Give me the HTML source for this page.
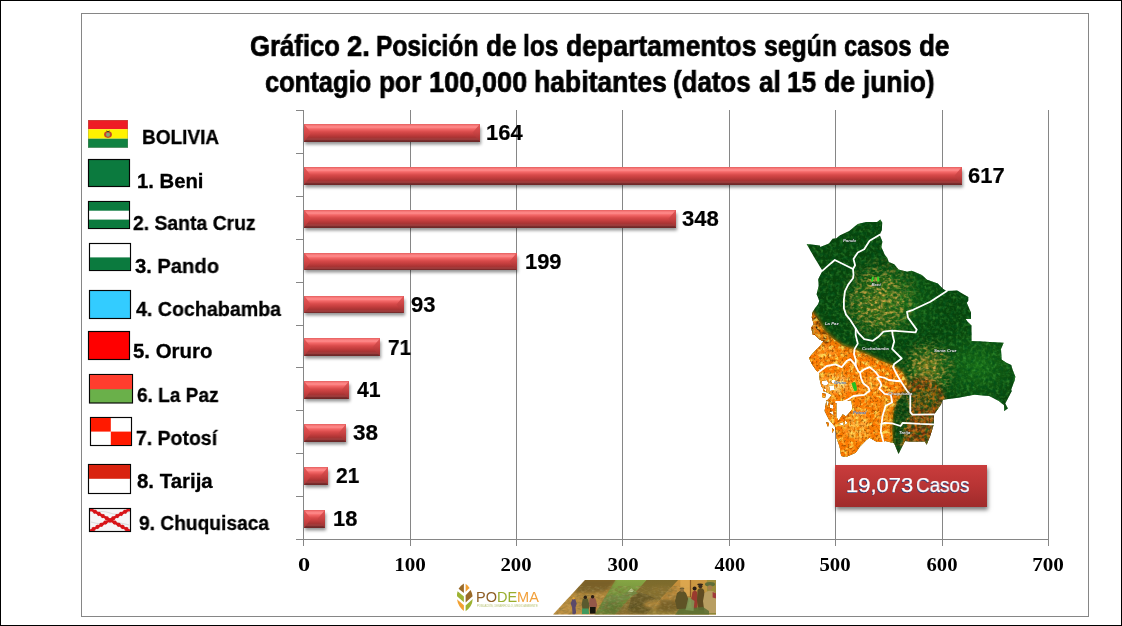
<!DOCTYPE html>
<html><head><meta charset="utf-8"><title>Grafico 2</title>
<style>
html,body{margin:0;padding:0;background:#fff;width:1122px;height:626px;overflow:hidden;}
body{width:1122px;height:626px;overflow:hidden;position:relative;font-family:"Liberation Sans",sans-serif;}
.t{position:absolute;white-space:nowrap;line-height:normal;will-change:transform;}
.g{position:absolute;background:#868686;}
.bar{position:absolute;left:304px;height:17.9px;
 background:linear-gradient(to bottom,#e05c5c 0px,#f47272 1px,#ff8c8c 3.1px,#f46868 4.9px,#d84a4a 7.9px,#c43e3e 10.5px,#a93333 13.4px,#a23a3a 14.4px,#9b3a3a 15.5px,#7e2e2e 16.1px,#6a2626 17.9px);
 box-shadow:1px 2.5px 3px rgba(0,0,0,.42);}
.bar i{position:absolute;top:0;height:100%;}
.bar .bl{left:0;width:7px;clip-path:polygon(0 0,100% 50%,0 100%);background:linear-gradient(to bottom,#e25656 0,#d84848 45%,#c64040 70%,#a83838 100%);opacity:.93}
.bar .br{right:0;width:7.6px;clip-path:polygon(100% 0,0 50%,100% 100%);background:linear-gradient(to bottom,#de5454 0,#cb4444 45%,#b43a3a 70%,#963232 100%);opacity:.9}
#casos{position:absolute;left:835px;top:465px;width:152px;height:41.5px;background:linear-gradient(to bottom,#c93c3c,#b83434 50%,#9f2b2b);box-shadow:1px 3px 4px rgba(0,0,0,.5);}
</style></head>
<body>
<div style="position:absolute;left:0;top:0;width:1120px;height:624px;border:1px solid #000;"></div>
<div style="position:absolute;left:81px;top:13px;width:1006px;height:602px;border:1px solid #868686;"></div>
<div class="g" style="left:303px;top:110px;width:1px;height:436px;"></div>
<div class="g" style="left:410px;top:110px;width:1px;height:436px;"></div>
<div class="g" style="left:516px;top:110px;width:1px;height:436px;"></div>
<div class="g" style="left:622px;top:110px;width:1px;height:436px;"></div>
<div class="g" style="left:729px;top:110px;width:1px;height:436px;"></div>
<div class="g" style="left:835px;top:110px;width:1px;height:436px;"></div>
<div class="g" style="left:942px;top:110px;width:1px;height:436px;"></div>
<div class="g" style="left:1048px;top:110px;width:1px;height:436px;"></div>
<div class="g" style="left:296px;top:539px;width:753px;height:1px;"></div>
<div class="g" style="left:296px;top:110px;width:7px;height:1px;"></div>
<div class="g" style="left:296px;top:153px;width:7px;height:1px;"></div>
<div class="g" style="left:296px;top:196px;width:7px;height:1px;"></div>
<div class="g" style="left:296px;top:239px;width:7px;height:1px;"></div>
<div class="g" style="left:296px;top:282px;width:7px;height:1px;"></div>
<div class="g" style="left:296px;top:325px;width:7px;height:1px;"></div>
<div class="g" style="left:296px;top:367px;width:7px;height:1px;"></div>
<div class="g" style="left:296px;top:410px;width:7px;height:1px;"></div>
<div class="g" style="left:296px;top:453px;width:7px;height:1px;"></div>
<div class="g" style="left:296px;top:496px;width:7px;height:1px;"></div>
<div class="bar" style="top:123.9px;width:176px;"><i class="bl"></i><i class="br"></i></div>
<div class="bar" style="top:166.8px;width:658px;"><i class="bl"></i><i class="br"></i></div>
<div class="bar" style="top:209.7px;width:372px;"><i class="bl"></i><i class="br"></i></div>
<div class="bar" style="top:252.6px;width:213px;"><i class="bl"></i><i class="br"></i></div>
<div class="bar" style="top:295.5px;width:100px;"><i class="bl"></i><i class="br"></i></div>
<div class="bar" style="top:338.4px;width:76px;"><i class="bl"></i><i class="br"></i></div>
<div class="bar" style="top:381.3px;width:45px;"><i class="bl"></i><i class="br"></i></div>
<div class="bar" style="top:424.2px;width:42px;"><i class="bl"></i><i class="br"></i></div>
<div class="bar" style="top:467.1px;width:24px;"><i class="bl"></i><i class="br"></i></div>
<div class="bar" style="top:510.0px;width:21px;"><i class="bl"></i><i class="br"></i></div>
<div id="casos"></div>
<!-- flags -->
<svg id="flags" style="position:absolute;left:0;top:0" width="300" height="626" viewBox="0 0 300 626">
 <!-- Bolivia -->
 <rect x="88" y="120" width="40" height="9.2" fill="#ee1c25"/>
 <rect x="88" y="129.2" width="40" height="9.5" fill="#fff200"/>
 <rect x="88" y="138.7" width="40" height="9.1" fill="#118242"/>
 <rect x="88.25" y="120.25" width="39.5" height="27.3" fill="none" stroke="#8a8a6a" stroke-width=".5" opacity=".6"/>
 <ellipse cx="108" cy="134.6" rx="3.9" ry="3.3" fill="#c4472a"/>
 <ellipse cx="108" cy="134.6" rx="2" ry="2.2" fill="#86a878"/>
 <path d="M106.4 130.2 l1.6 1.2 l1.6 -1.2 l-.4 1.8 h-2.4z" fill="#2c3420"/>
 <!-- Beni -->
 <rect x="88.5" y="159.5" width="41" height="27" fill="#0b7a3e" stroke="#050505" stroke-width="1.15"/>
 <!-- Santa Cruz -->
 <rect x="88.5" y="201.5" width="41" height="27" fill="#fff" stroke="#050505" stroke-width="1.15"/>
 <rect x="89" y="202" width="40" height="8.7" fill="#0b7a3e"/>
 <rect x="89" y="219.6" width="40" height="8.4" fill="#0b7a3e"/>
 <!-- Pando -->
 <rect x="89.5" y="243.5" width="41" height="27" fill="#fff" stroke="#050505" stroke-width="1.15"/>
 <rect x="90" y="257.4" width="40" height="12.6" fill="#0b7a3e"/>
 <!-- Cochabamba -->
 <rect x="89.5" y="290.5" width="41" height="28" fill="#33ccff" stroke="#050505" stroke-width="1.15"/>
 <!-- Oruro -->
 <rect x="88.5" y="331.5" width="41" height="28" fill="#ff0000" stroke="#050505" stroke-width="1.15"/>
 <!-- La Paz -->
 <rect x="89.5" y="374.5" width="43" height="28.5" fill="#6ab04a" stroke="#050505" stroke-width="1.15"/>
 <rect x="90" y="375" width="42" height="14.2" fill="#ff3d2e"/>
 <!-- Potosi -->
 <rect x="90.5" y="417.5" width="41" height="28" fill="#fff" stroke="#050505" stroke-width="1.15"/>
 <rect x="91" y="418" width="19.8" height="13.6" fill="#ff1a00"/>
 <rect x="110.8" y="431.6" width="20.2" height="13.4" fill="#ff1a00"/>
 <!-- Tarija -->
 <rect x="88.5" y="464.5" width="42" height="29" fill="#fff" stroke="#050505" stroke-width="1.15"/>
 <rect x="89" y="465" width="41" height="13.8" fill="#d9230f"/>
 <!-- Chuquisaca -->
 <clipPath id="chq"><rect x="90" y="509" width="40" height="22"/></clipPath>
 <rect x="89.5" y="508.5" width="41" height="23" fill="#f6f6f6" stroke="#050505" stroke-width="1.15"/>
 <path d="M92 513 q10 -3 18 0 t19 -1 M91 522 q9 3 16 1 t22 2" stroke="#dcdcdc" stroke-width="1.2" fill="none"/>
 <g clip-path="url(#chq)">
  <path d="M90 509 L130 531 M130 509 L90 531" stroke="#d81418" stroke-width="2.8" fill="none"/>
  <path d="M90 509 L130 531 M130 509 L90 531" stroke="#d81418" stroke-width="4" fill="none" stroke-dasharray="2.3 2.2"/>
 </g>
</svg>

<!-- map -->
<svg id="map" style="position:absolute;left:795px;top:212px" width="230" height="250" viewBox="795 212 230 250">
<defs>
<clipPath id="mc"><path clip-rule="evenodd" d="M806.6 244.1 L819.8 245.5 L820.3 246.9 L828.9 243.4 L832.6 238.8 L836.4 238.3 L840.1 235.3 L849.2 231.1 L857.8 224.1 L866.4 222.0 L877.1 222.0 L880.3 219.5 L882.2 222.5 L881.9 230.0 L879.7 234.8 L882.4 241.8 L881.4 247.1 L884.6 254.6 L887.2 257.8 L888.8 262.1 L894.2 264.2 L898.5 269.6 L907.0 271.7 L911.3 270.7 L914.3 271.8 L921.8 275.0 L927.1 279.8 L937.8 283.5 L943.2 288.9 L946.4 291.0 L957.1 290.5 L968.3 296.9 L968.3 300.7 L966.7 302.8 L971.0 312.5 L971.0 318.9 L965.7 318.9 L967.0 321.0 L971.5 325.4 L971.5 340.9 L1003.7 342.7 L1001.0 348.9 L1001.5 359.6 L1006.3 362.8 L1011.2 365.0 L1012.8 370.3 L1015.4 376.7 L1014.4 381.0 L1011.2 389.6 L1011.7 391.2 L1005.3 403.5 L1007.9 408.4 L1004.2 411.0 L1004.0 405.2 L998.8 400.9 L989.2 396.1 L974.2 394.8 L958.2 397.7 L942.6 399.8 L941.0 404.6 L934.1 414.3 L933.6 425.0 L930.3 435.7 L926.6 444.8 L925.0 441.6 L910.0 441.5 L904.9 441.0 L901.7 447.5 L898.5 453.9 L894.2 443.2 L885.6 441.0 L882.4 442.1 L877.1 442.1 L869.6 437.8 L866.4 440.0 L860.0 446.4 L855.7 452.8 L846.0 457.1 L841.2 456.0 L839.6 446.4 L836.4 437.8 L835.3 427.1 L828.9 419.6 L824.6 411.0 L826.2 401.4 L832.1 394.9 L825.7 391.7 L821.4 386.4 L819.8 380.0 L819.3 373.5 L816.1 370.3 L811.8 363.9 L809.1 358.0 L812.8 353.2 L819.3 346.8 L823.5 341.4 L819.3 339.3 L815.0 335.0 L812.8 334.9 L811.2 327.5 L813.9 324.2 L811.8 317.8 L812.3 312.5 L815.0 308.2 L818.2 303.9 L819.3 300.7 L816.6 294.3 L818.7 285.7 L818.2 279.3 L822.5 270.7 L813.9 256.7Z M836.4 401.4 L851.4 400.4 L852.5 408.9 L846.0 416.4 L842.8 414.3 L838.5 420.7 L836.4 416.4Z M826 400 l3 2 l-2 5 z M829 412 l4 -1 l1 5 z M826 422 l3 1 l-1 4 z M838 424 l5 -2 l1 4 z M845 420 l3 3 l-3 2z M822 393 l4 1 l-1 4 l-3 -1z M830 404 l3 1 l0 4 l-3 -1z M832 428 l2 2 l-2 3z M822 381 l5 -1 l2 4 l-4 2 l-3 -2z M829 386 l5 -1 l1 5 l-5 1z M823 388 l3 1 l0 3 l-3 -1z M832 380 l3 0 l0 3 l-3 0z"/></clipPath>
<clipPath id="oc"><polygon points="800.0,309.0 812.0,311.0 817.0,318.0 824.0,330.0 832.0,338.0 843.0,346.0 853.5,349.0 866.4,354.3 880.3,360.7 894.2,366.0 903.0,373.0 907.0,384.0 903.0,394.0 897.0,402.0 893.0,415.0 892.0,428.0 893.0,445.0 890.0,465.0 800.0,465.0"/></clipPath>
<radialGradient id="mw" cx="0.5" cy="0.5" r="0.5"><stop offset="0" stop-color="#fff"/><stop offset="0.55" stop-color="#fff" stop-opacity=".8"/><stop offset="1" stop-color="#fff" stop-opacity="0"/></radialGradient>
<mask id="sv" maskUnits="userSpaceOnUse" x="795" y="212" width="230" height="250"><ellipse cx="880" cy="300" rx="42" ry="44" fill="url(#mw)"/><ellipse cx="928" cy="370" rx="30" ry="34" fill="url(#mw)"/><ellipse cx="920" cy="408" rx="22" ry="22" fill="url(#mw)"/></mask>
<filter id="nD" x="0" y="0" width="100%" height="100%"><feTurbulence type="fractalNoise" baseFrequency="0.28" numOctaves="2" seed="7"/><feColorMatrix type="matrix" values="0 0 0 0 0  0 0 0 0 0.08  0 0 0 0 0.01  0 2.6 0 0 -1.05"/></filter>
<filter id="nG" x="0" y="0" width="100%" height="100%"><feTurbulence type="fractalNoise" baseFrequency="0.3" numOctaves="2" seed="31"/><feColorMatrix type="matrix" values="0 0 0 0 0.1  0 0 0 0 0.6  0 0 0 0 0.08  2.8 0 0 0 -1.2"/></filter>
<filter id="nO" x="0" y="0" width="100%" height="100%"><feTurbulence type="fractalNoise" baseFrequency="0.24 0.34" numOctaves="2" seed="11"/><feColorMatrix type="matrix" values="0 0 0 0 0.74  0 0 0 0 0.42  0 0 0 0 0.07  3.4 0 0 0 -1.45"/></filter>
<filter id="nY" x="0" y="0" width="100%" height="100%"><feTurbulence type="fractalNoise" baseFrequency="0.2 0.26" numOctaves="2" seed="23"/><feColorMatrix type="matrix" values="0 0 0 0 1  0 0 0 0 0.8  0 0 0 0 0.12  0 0 3.6 0 -1.5"/></filter>
<filter id="nR" x="0" y="0" width="100%" height="100%"><feTurbulence type="fractalNoise" baseFrequency="0.34 0.26" numOctaves="2" seed="5"/><feColorMatrix type="matrix" values="0 0 0 0 0.92  0 0 0 0 0.2  0 0 0 0 0  0 3.4 0 0 -1.35"/></filter>
<filter id="nK" x="0" y="0" width="100%" height="100%"><feTurbulence type="fractalNoise" baseFrequency="0.5 0.4" numOctaves="2" seed="13"/><feColorMatrix type="matrix" values="0 0 0 0 0.25  0 0 0 0 0.06  0 0 0 0 0  3.6 0 0 0 -1.8"/></filter>
<filter id="bl"><feGaussianBlur stdDeviation="2"/></filter><filter id="bl2"><feGaussianBlur stdDeviation="4"/></filter><filter id="bl1"><feGaussianBlur stdDeviation="1"/></filter>
<radialGradient id="gb" cx="0.5" cy="0.5" r="0.5"><stop offset="0" stop-color="#6e7a18" stop-opacity=".75"/><stop offset="0.6" stop-color="#3e7016" stop-opacity=".5"/><stop offset="1" stop-color="#1c6a18" stop-opacity="0"/></radialGradient>
<radialGradient id="gs" cx="0.5" cy="0.5" r="0.5"><stop offset="0" stop-color="#b88a20" stop-opacity=".8"/><stop offset="0.55" stop-color="#6a7a1a" stop-opacity=".5"/><stop offset="1" stop-color="#1c6a18" stop-opacity="0"/></radialGradient>
<radialGradient id="ge" cx="0.5" cy="0.5" r="0.5"><stop offset="0" stop-color="#1c7419" stop-opacity=".95"/><stop offset="1" stop-color="#166216" stop-opacity="0"/></radialGradient>
</defs>
<g clip-path="url(#mc)">
<rect x="795" y="212" width="230" height="250" fill="#08430c"/>
<ellipse cx="978" cy="366" rx="52" ry="42" fill="url(#ge)"/>
<ellipse cx="900" cy="300" rx="48" ry="40" fill="url(#ge)" opacity=".75"/>
<ellipse cx="880" cy="303" rx="36" ry="38" fill="url(#gb)"/>
<ellipse cx="927" cy="368" rx="22" ry="27" fill="url(#gs)"/>
<rect x="795" y="212" width="230" height="250" filter="url(#nG)" opacity=".36"/>
<g mask="url(#sv)"><rect x="830" y="250" width="140" height="190" filter="url(#nO)" opacity=".95"/></g>
<rect x="795" y="212" width="230" height="250" filter="url(#nD)" opacity=".7"/>
<g filter="url(#bl)"><polygon points="800.0,309.0 812.0,311.0 817.0,318.0 824.0,330.0 832.0,338.0 843.0,346.0 853.5,349.0 866.4,354.3 880.3,360.7 894.2,366.0 903.0,373.0 907.0,384.0 903.0,394.0 897.0,402.0 893.0,415.0 892.0,428.0 893.0,445.0 890.0,465.0 800.0,465.0" fill="#ff7606"/><polygon points="905.0,392.0 912.0,380.0 925.0,378.0 938.0,386.0 945.0,398.0 936.0,416.0 934.0,446.0 900.0,446.0 905.0,424.0 910.0,412.0" fill="#70300c" opacity=".95"/></g>
<polygon points="897.0,398.0 910.0,392.0 911.0,412.0 906.0,424.0 905.0,441.0 898.5,455.0 893.0,443.0 897.0,425.0 894.0,412.0" fill="#0a3a0c" filter="url(#bl)" opacity=".97"/>
<clipPath id="wc"><polygon points="897.0,398.0 910.0,392.0 911.0,412.0 906.0,424.0 905.0,441.0 898.5,455.0 893.0,443.0 897.0,425.0 894.0,412.0"/></clipPath>
<g clip-path="url(#wc)"><rect x="885" y="385" width="35" height="75" filter="url(#nG)" opacity=".3"/><rect x="885" y="385" width="35" height="75" filter="url(#nO)" opacity=".25"/><rect x="885" y="385" width="35" height="75" filter="url(#nD)" opacity=".6"/></g>
<g filter="url(#bl)" opacity=".95"><ellipse cx="836" cy="384" rx="14" ry="8" fill="#ffe08a"/><ellipse cx="857" cy="426" rx="12" ry="14" fill="#ffb040"/><ellipse cx="872" cy="384" rx="10" ry="7" fill="#ff9a2a"/><ellipse cx="886" cy="410" rx="3.5" ry="15" fill="#eaa42a"/><ellipse cx="826" cy="352" rx="10" ry="8" fill="#ff9428"/></g>
<ellipse cx="926" cy="398" rx="13" ry="11" fill="#274e12" filter="url(#bl)" opacity=".8"/>
<clipPath id="cc"><polygon points="905.0,392.0 912.0,380.0 925.0,378.0 938.0,386.0 945.0,398.0 936.0,416.0 934.0,446.0 900.0,446.0 905.0,424.0 910.0,412.0"/></clipPath>
<g clip-path="url(#cc)"><rect x="895" y="375" width="60" height="75" filter="url(#nO)" opacity=".55"/><rect x="895" y="375" width="60" height="75" filter="url(#nR)" opacity=".55"/><rect x="895" y="375" width="60" height="75" filter="url(#nD)" opacity=".75"/></g>
<path d="M811 312 L817 318 L821 330 L831 339 L827 344 L818 339 L812 331 Z" fill="#140e04" opacity=".85" filter="url(#bl1)"/>
<path d="M812 318 l3 4 l1 6 l5 6 l4 6 l-4 1 l-6 -7 l-3 -8z" fill="#f08a1c" opacity=".85"/>
<g clip-path="url(#oc)"><rect x="795" y="300" width="160" height="165" filter="url(#nY)" opacity=".85"/><rect x="795" y="300" width="160" height="165" filter="url(#nR)" opacity=".85"/><rect x="795" y="300" width="160" height="165" filter="url(#nK)" opacity=".7"/></g>
<path d="M851.5 383 l3.5 -1 l1.5 4 l0.5 4.5 l-2.5 0.8 l-1.5 -3.5 z" fill="#22c222"/>
<path d="M870.8 281 l1.5 -4.4 l1.6 .5 l-1 4.6z M877 281.3 l.2 -4.7 l1.8 .2 l.5 4.7z" fill="#35d82a"/>
</g>
<polyline points="822.5,270.7 831.0,263.2 834.8,260.0 853.0,269.0" fill="none" stroke="#fff" stroke-width="1.8" stroke-linejoin="round" stroke-linecap="round"/>
<polyline points="879.7,234.8 869.6,240.7 864.2,249.3 857.8,252.5 853.5,258.9 855.1,265.3 853.0,269.0 853.5,274.9 853.0,278.2 848.2,284.6 845.0,291.1 843.9,299.6 843.9,308.2 846.0,314.6 850.3,320.0 855.7,328.5 858.3,332.8 864.2,339.2 872.8,340.8 878.1,337.1 883.5,331.7 892.1,330.7 915.6,332.3 916.7,329.6 908.1,317.8 907.0,311.9 913.2,309.8 930.3,301.7 946.9,291.0" fill="none" stroke="#fff" stroke-width="1.8" stroke-linejoin="round" stroke-linecap="round"/>
<polyline points="855.7,328.5 855.7,335.0 857.8,343.6 854.6,348.9 854.0,354.3 855.7,359.6 855.7,366.0" fill="none" stroke="#fff" stroke-width="1.8" stroke-linejoin="round" stroke-linecap="round"/>
<polyline points="818.2,372.5 826.8,366.0 835.3,364.4 841.7,367.1 847.1,360.7 850.3,359.1 853.5,362.8 855.7,366.0" fill="none" stroke="#fff" stroke-width="1.8" stroke-linejoin="round" stroke-linecap="round"/>
<polyline points="855.7,366.0 858.3,371.4 860.0,372.5 864.2,369.3 869.6,367.1 874.9,371.4 879.2,376.7 884.6,377.8 888.8,380.0 896.3,381.0 900.6,381.0" fill="none" stroke="#fff" stroke-width="1.8" stroke-linejoin="round" stroke-linecap="round"/>
<polyline points="892.1,330.7 892.6,335.0 894.2,341.4 892.1,348.9 901.7,358.5 894.2,363.9 893.1,367.1 896.3,373.5 900.6,381.0 907.0,390.7 910.3,394.9 910.3,412.1 912.4,414.6 934.1,414.3" fill="none" stroke="#fff" stroke-width="1.8" stroke-linejoin="round" stroke-linecap="round"/>
<polyline points="860.0,372.5 861.0,377.8 863.2,383.2 868.5,387.5 869.6,390.7 864.2,394.9 853.5,396.0 848.2,399.2 842.8,402.0 836.0,402.0" fill="none" stroke="#fff" stroke-width="1.8" stroke-linejoin="round" stroke-linecap="round"/>
<polyline points="879.2,376.7 877.1,377.8 880.3,382.1 881.4,385.3 879.2,388.5 884.6,393.9 891.0,394.9 892.1,402.5 885.6,405.7 882.4,416.4 880.8,431.4 883.5,442.1" fill="none" stroke="#fff" stroke-width="1.8" stroke-linejoin="round" stroke-linecap="round"/>
<polyline points="881.5,424.0 884.6,422.8 892.1,423.4 900.6,426.0 902.8,422.8 920.0,423.9 933.6,424.4" fill="none" stroke="#fff" stroke-width="1.8" stroke-linejoin="round" stroke-linecap="round"/>
<text x="843" y="241.5" font-family="Liberation Sans, sans-serif" font-size="4.3" font-weight="bold" font-style="italic" fill="#f2f2f2" stroke="#1c2430" stroke-width=".3" paint-order="stroke" opacity=".92">Pando</text>
<text x="871.5" y="286.3" font-family="Liberation Sans, sans-serif" font-size="4.3" font-weight="bold" font-style="italic" fill="#f2f2f2" stroke="#1c2430" stroke-width=".3" paint-order="stroke" opacity=".92">Beni</text>
<text x="825" y="325" font-family="Liberation Sans, sans-serif" font-size="4.3" font-weight="bold" font-style="italic" fill="#f2f2f2" stroke="#1c2430" stroke-width=".3" paint-order="stroke" opacity=".92">La Paz</text>
<text x="862" y="350" font-family="Liberation Sans, sans-serif" font-size="4.3" font-weight="bold" font-style="italic" fill="#f2f2f2" stroke="#1c2430" stroke-width=".3" paint-order="stroke" opacity=".92">Cochabamba</text>
<text x="934" y="351.5" font-family="Liberation Sans, sans-serif" font-size="4.3" font-weight="bold" font-style="italic" fill="#f2f2f2" stroke="#1c2430" stroke-width=".3" paint-order="stroke" opacity=".92">Santa Cruz</text>
<text x="834" y="383.5" font-family="Liberation Sans, sans-serif" font-size="4.3" font-weight="bold" font-style="italic" fill="#3f62a8" stroke="#f4ead0" stroke-width=".3" paint-order="stroke" opacity=".92">Oruro</text>
<text x="853" y="414" font-family="Liberation Sans, sans-serif" font-size="4.3" font-weight="bold" font-style="italic" fill="#3f62a8" stroke="#f4ead0" stroke-width=".3" paint-order="stroke" opacity=".92">Potosí</text>
<text x="888" y="394.5" font-family="Liberation Sans, sans-serif" font-size="4.3" font-weight="bold" font-style="italic" fill="#f2f2f2" stroke="#1c2430" stroke-width=".3" paint-order="stroke" opacity=".92">Chuquisaca</text>
<text x="899" y="433.5" font-family="Liberation Sans, sans-serif" font-size="4.3" font-weight="bold" font-style="italic" fill="#f2f2f2" stroke="#1c2430" stroke-width=".3" paint-order="stroke" opacity=".92">Tarija</text>
</svg>

<!-- logos -->
<svg id="logos" style="position:absolute;left:450px;top:576px" width="275" height="42" viewBox="450 576 275 42">
 <defs>
  <clipPath id="bn"><polygon points="553,614.5 585,580 716,580 716,614.5"/></clipPath>
  <filter id="lb"><feGaussianBlur stdDeviation="0.7"/></filter>
  <filter id="ln" x="0" y="0" width="100%" height="100%"><feTurbulence type="fractalNoise" baseFrequency="0.22 0.4" numOctaves="2" seed="4"/><feColorMatrix type="matrix" values="0 0 0 0 0.22  0 0 0 0 0.16  0 0 0 0 0.04  2.8 0 0 0 -1.15"/></filter>
  <filter id="ln2" x="0" y="0" width="100%" height="100%"><feTurbulence type="fractalNoise" baseFrequency="0.25 0.45" numOctaves="2" seed="9"/><feColorMatrix type="matrix" values="0 0 0 0 0.95  0 0 0 0 0.78  0 0 0 0 0.4  0 2.8 0 0 -1.3"/></filter>
  <filter id="lb2"><feGaussianBlur stdDeviation="1.6"/></filter>
  <linearGradient id="sky1" x1="0" y1="0" x2="0" y2="1"><stop offset="0" stop-color="#8a6a2a"/><stop offset=".45" stop-color="#b58a3c"/><stop offset="1" stop-color="#c09244"/></linearGradient>
  <linearGradient id="grn" x1="0" y1="0" x2="0" y2="1"><stop offset="0" stop-color="#86a544"/><stop offset=".5" stop-color="#6f8f3a"/><stop offset="1" stop-color="#6a7f35"/></linearGradient>
  <linearGradient id="brn" x1="0" y1="0" x2="0" y2="1"><stop offset="0" stop-color="#7b6a2c"/><stop offset=".5" stop-color="#86702f"/><stop offset="1" stop-color="#8a6f30"/></linearGradient>
  <linearGradient id="org" x1="0" y1="0" x2="0" y2="1"><stop offset="0" stop-color="#c8923c"/><stop offset=".5" stop-color="#b5863a"/><stop offset="1" stop-color="#9a8438"/></linearGradient>
 </defs>
 <!-- leaf -->
 <g>
  <path d="M463.9 583.6 L463.9 593 L458.6 588.8 Q460.6 585.6 463.9 583.6Z" fill="#9a6a28"/>
  <path d="M465.6 583.8 Q468.2 585.6 469.6 587.9 L465.6 591.8Z" fill="#f2a132"/>
  <path d="M457.6 591.3 L463.9 596.5 L463.9 602.3 L457 596.3 Q456.9 593.5 457.6 591.3Z" fill="#9cb232"/>
  <path d="M465.6 595.2 L470.6 590 Q472.2 593 472.6 596.2 L465.6 602.6Z" fill="#9a6a28"/>
  <path d="M457 599.3 L463.9 605.3 L463.9 611 Q458 606.5 457 599.3Z" fill="#f2a132"/>
  <path d="M465.6 605.6 L472.7 599 Q472.4 606.5 465.6 611.2Z" fill="#9cb232"/>
 </g>
 <!-- banner -->
 <g clip-path="url(#bn)">
  <rect x="553" y="580" width="165" height="35" fill="url(#sky1)"/>
  <polygon points="615.4,580 646.8,580 615,614.7 594.5,614.7" fill="url(#grn)"/>
  <polygon points="646.8,580 678.1,580 646,614.7 615,614.7" fill="url(#brn)"/>
  <polygon points="678.1,580 718,580 718,614.7 646,614.7" fill="url(#org)"/>
  <polygon points="707,580 718,580 718,614.7 676.5,614.7" fill="#7f8c3c" opacity=".55"/>
  <!-- dark top of first band -->
  <path d="M585 580 L616 580 L607 590 Q595 594 574 592Z" fill="#6f5a26" filter="url(#lb2)" opacity=".75"/>
  <!-- mountains -->
  <path d="M604 598 L612 594.5 L620 596 L626 592.5 L631.5 588.5 L634 591 L638 593 L600 612Z" fill="#728c46" filter="url(#lb)" opacity=".9"/>
  <path d="M628 591.5 L631.5 588.3 L634 590.6 L632 592.3Z" fill="#c8d8a0" opacity=".85"/>
  <path d="M631 598 L640 592.5 L648 595 L656 599 L628 610Z" fill="#5e5226" filter="url(#lb)" opacity=".75"/>
  <!-- field textures -->
  <g filter="url(#lb2)" opacity=".6">
   <ellipse cx="668" cy="606" rx="15" ry="6" fill="#5a4a1c"/>
   <ellipse cx="640" cy="609" rx="12" ry="5" fill="#4f4a1c"/>
   <ellipse cx="612" cy="607" rx="10" ry="6" fill="#58702e"/>
   <ellipse cx="662" cy="590" rx="12" ry="4" fill="#8f7430"/>
   <ellipse cx="652" cy="604" rx="8" ry="4" fill="#c09040"/>
  </g>
  <rect x="553" y="586" width="140" height="29" filter="url(#ln)" opacity=".55"/>
  <rect x="553" y="586" width="140" height="29" filter="url(#ln2)" opacity=".16"/>
  <!-- people left -->
  <g filter="url(#lb)">
   <path d="M572.2 599.5 q1.8 -2 3.2 0 l1.3 4 l-1.2 4 l.6 5 l-1 2 h-2.6 l-.4 -7 l-1.4 -4z" fill="#5a4a6a"/>
   <circle cx="573.6" cy="598.2" r="1.3" fill="#e0a23a"/>
   <path d="M582.6 599.5 q3 -3.6 5.4 0 l1.6 6 l-1 4 h-6 l-1 -5z" fill="#5a5a2e"/>
   <path d="M582 608.5 h6.5 l.5 5.5 h-7z" fill="#3f9a5e"/>
   <circle cx="585.3" cy="597.3" r="1.7" fill="#2a2016"/>
   <path d="M589.6 599 q3 -3.8 6 0 l1.6 6 l-1.2 3.5 h-6 l-1 -5z" fill="#94584a"/>
   <rect x="590" y="607" width="5.6" height="6.6" fill="#15120e"/>
   <circle cx="592.6" cy="596.8" r="1.7" fill="#2a1a12"/>
  </g>
  <!-- wall/door right -->
  <rect x="680.3" y="580" width="9.6" height="16" fill="#e2ab52" opacity=".8"/>
  <rect x="691" y="580" width="16" height="17" fill="#cf9a44" opacity=".7"/>
  <rect x="689.9" y="580" width="1.2" height="17" fill="#7a4a1c" opacity=".7"/>
  <!-- people right -->
  <g filter="url(#lb)">
   <path d="M677 593 q5 -5 9 0 l3 8 l-2 8 h-10 l-2 -8z" fill="#5f5226"/>
   <ellipse cx="682" cy="588.6" rx="2.4" ry="1" fill="#6a5a30"/>
   <circle cx="682" cy="590.3" r="1.9" fill="#8f6f3c"/>
   <path d="M692.5 592 q2.5 -3 4.5 0 l1 9 l-1 8 h-5 l-1 -9z" fill="#9a3a2e"/>
   <circle cx="694.6" cy="588.4" r="2" fill="#2a1c12"/>
   <path d="M697.5 590 q3 -4 6.5 0 l1.5 10 l-1 10 h-6 l-1.5 -10z" fill="#5e4c22"/>
   <ellipse cx="700.2" cy="584.6" rx="3" ry="1.1" fill="#30241a"/>
   <circle cx="700.4" cy="586.3" r="2" fill="#3a2a1a"/>
   <path d="M704.5 593 q5 -4 10 -1 l2 6 v15 h-12 l-1.5 -12z" fill="#b89e62"/>
   <ellipse cx="710" cy="584.3" rx="5" ry="2.2" fill="#5f6e3a"/>
   <circle cx="710" cy="587.6" r="2.4" fill="#a57e4c"/>
   <path d="M712.6 592 l3.6 1.6 v5 l-3.6 -1z" fill="#a03a3a"/>
   <path d="M679 609 l24 -2 l6 4 v4 h-34z" fill="#5a6e34" opacity=".85"/>
   <path d="M688.5 597 l6 4 l-1 10 l-8 -1z" fill="#7f9a58" opacity=".85"/>
  </g>
 </g>
</svg>
<div class="t" id="lg1" style="left:476.3px;top:589.4px;font-size:14.5px;font-weight:normal;transform-origin:0 0;transform:scaleX(.995);letter-spacing:0"><span style="color:#8e5e24">PO</span><span style="color:#9aae2e">DE</span><span style="color:#f2a03a">MA</span></div>
<div class="t" id="lg2" style="left:476.5px;top:603.8px;font-size:2.8px;font-weight:normal;color:#b4bf6c;transform-origin:0 0;transform:scaleX(.97);letter-spacing:0">POBLACIÓN, DESARROLLO, MEDIO AMBIENTE</div>

<div id="d0" class="t" style="left:486.24px;transform-origin:0 0;top:121.01px;font-size:21.2px;font-weight:bold;color:#000;transform:scaleX(1.0347);-webkit-text-stroke:0.2px #000;">164</div>
<div id="d1" class="t" style="left:967.95px;transform-origin:0 0;top:163.91px;font-size:21.2px;font-weight:bold;color:#000;transform:scaleX(1.0354);-webkit-text-stroke:0.2px #000;">617</div>
<div id="d2" class="t" style="left:682.45px;transform-origin:0 0;top:206.81px;font-size:21.2px;font-weight:bold;color:#000;transform:scaleX(1.0444);-webkit-text-stroke:0.2px #000;">348</div>
<div id="d3" class="t" style="left:524.60px;transform-origin:0 0;top:249.71px;font-size:21.2px;font-weight:bold;color:#000;transform:scaleX(1.0328);-webkit-text-stroke:0.2px #000;">199</div>
<div id="d4" class="t" style="left:410.71px;transform-origin:0 0;top:292.61px;font-size:21.2px;font-weight:bold;color:#000;transform:scaleX(1.0381);-webkit-text-stroke:0.2px #000;">93</div>
<div id="d5" class="t" style="left:388.35px;transform-origin:0 0;top:335.51px;font-size:21.2px;font-weight:bold;color:#000;transform:scaleX(0.9802);-webkit-text-stroke:0.2px #000;">71</div>
<div id="d6" class="t" style="left:356.77px;transform-origin:0 0;top:378.41px;font-size:21.2px;font-weight:bold;color:#000;transform:scaleX(1.0040);-webkit-text-stroke:0.2px #000;">41</div>
<div id="d7" class="t" style="left:352.72px;transform-origin:0 0;top:421.31px;font-size:21.2px;font-weight:bold;color:#000;transform:scaleX(1.0642);-webkit-text-stroke:0.2px #000;">38</div>
<div id="d8" class="t" style="left:335.58px;transform-origin:0 0;top:464.21px;font-size:21.2px;font-weight:bold;color:#000;transform:scaleX(0.9917);-webkit-text-stroke:0.2px #000;">21</div>
<div id="d9" class="t" style="left:333.00px;transform-origin:0 0;top:507.11px;font-size:21.2px;font-weight:bold;color:#000;transform:scaleX(1.0317);-webkit-text-stroke:0.2px #000;">18</div>
<div id="a0" class="t" style="left:263.80px;width:80px;text-align:center;transform-origin:50% 0;top:553.08px;font-size:19.8px;font-weight:bold;color:#000;transform:scaleX(1.2285);font-family:'Liberation Serif',serif;">0</div>
<div id="a1" class="t" style="left:369.69px;width:80px;text-align:center;transform-origin:50% 0;top:553.08px;font-size:19.8px;font-weight:bold;color:#000;transform:scaleX(1.0690);font-family:'Liberation Serif',serif;">100</div>
<div id="a2" class="t" style="left:476.22px;width:80px;text-align:center;transform-origin:50% 0;top:553.08px;font-size:19.8px;font-weight:bold;color:#000;transform:scaleX(1.0476);font-family:'Liberation Serif',serif;">200</div>
<div id="a3" class="t" style="left:582.59px;width:80px;text-align:center;transform-origin:50% 0;top:553.08px;font-size:19.8px;font-weight:bold;color:#000;transform:scaleX(1.0490);font-family:'Liberation Serif',serif;">300</div>
<div id="a4" class="t" style="left:689.75px;width:80px;text-align:center;transform-origin:50% 0;top:553.08px;font-size:19.8px;font-weight:bold;color:#000;transform:scaleX(1.0366);font-family:'Liberation Serif',serif;">400</div>
<div id="a5" class="t" style="left:795.00px;width:80px;text-align:center;transform-origin:50% 0;top:553.08px;font-size:19.8px;font-weight:bold;color:#000;transform:scaleX(1.0509);font-family:'Liberation Serif',serif;">500</div>
<div id="a6" class="t" style="left:902.36px;width:80px;text-align:center;transform-origin:50% 0;top:553.08px;font-size:19.8px;font-weight:bold;color:#000;transform:scaleX(1.0451);font-family:'Liberation Serif',serif;">600</div>
<div id="a7" class="t" style="left:1008.21px;width:80px;text-align:center;transform-origin:50% 0;top:553.08px;font-size:19.8px;font-weight:bold;color:#000;transform:scaleX(1.0686);font-family:'Liberation Serif',serif;">700</div>
<div id="p0" class="t" style="left:250.06px;transform-origin:0 0;top:29.84px;font-size:28.8px;font-weight:bold;color:#000;transform:scaleX(0.8916);-webkit-text-stroke:0.7px #000;">Gráfico</div>
<div id="p1" class="t" style="left:346.69px;transform-origin:0 0;top:29.84px;font-size:28.8px;font-weight:bold;color:#000;transform:scaleX(0.9526);-webkit-text-stroke:0.7px #000;">2.</div>
<div id="p2" class="t" style="left:376.21px;transform-origin:0 0;top:29.84px;font-size:28.8px;font-weight:bold;color:#000;transform:scaleX(0.8531);-webkit-text-stroke:0.7px #000;">Posición</div>
<div id="p3" class="t" style="left:485.83px;transform-origin:0 0;top:29.84px;font-size:28.8px;font-weight:bold;color:#000;transform:scaleX(0.9122);-webkit-text-stroke:0.7px #000;">de</div>
<div id="p4" class="t" style="left:523.34px;transform-origin:0 0;top:29.84px;font-size:28.8px;font-weight:bold;color:#000;transform:scaleX(0.8521);-webkit-text-stroke:0.7px #000;">los</div>
<div id="p5" class="t" style="left:566.16px;transform-origin:0 0;top:29.84px;font-size:28.8px;font-weight:bold;color:#000;transform:scaleX(0.9225);-webkit-text-stroke:0.7px #000;">departamentos</div>
<div id="p6" class="t" style="left:764.41px;transform-origin:0 0;top:29.84px;font-size:28.8px;font-weight:bold;color:#000;transform:scaleX(0.8605);-webkit-text-stroke:0.7px #000;">según</div>
<div id="p7" class="t" style="left:844.47px;transform-origin:0 0;top:29.84px;font-size:28.8px;font-weight:bold;color:#000;transform:scaleX(0.8253);-webkit-text-stroke:0.7px #000;">casos</div>
<div id="p8" class="t" style="left:918.81px;transform-origin:0 0;top:29.84px;font-size:28.8px;font-weight:bold;color:#000;transform:scaleX(0.9049);-webkit-text-stroke:0.7px #000;">de</div>
<div id="q0" class="t" style="left:265.21px;transform-origin:0 0;top:65.54px;font-size:28.8px;font-weight:bold;color:#000;transform:scaleX(0.8856);-webkit-text-stroke:0.7px #000;">contagio</div>
<div id="q1" class="t" style="left:378.81px;transform-origin:0 0;top:65.54px;font-size:28.8px;font-weight:bold;color:#000;transform:scaleX(0.9077);-webkit-text-stroke:0.7px #000;">por</div>
<div id="q2" class="t" style="left:429.12px;transform-origin:0 0;top:65.54px;font-size:28.8px;font-weight:bold;color:#000;transform:scaleX(0.9448);-webkit-text-stroke:0.7px #000;">100,000</div>
<div id="q3" class="t" style="left:533.50px;transform-origin:0 0;top:65.54px;font-size:28.8px;font-weight:bold;color:#000;transform:scaleX(0.9223);-webkit-text-stroke:0.7px #000;">habitantes</div>
<div id="q4" class="t" style="left:672.93px;transform-origin:0 0;top:65.54px;font-size:28.8px;font-weight:bold;color:#000;transform:scaleX(0.8975);-webkit-text-stroke:0.7px #000;">(datos</div>
<div id="q5" class="t" style="left:758.78px;transform-origin:0 0;top:65.54px;font-size:28.8px;font-weight:bold;color:#000;transform:scaleX(0.9074);-webkit-text-stroke:0.7px #000;">al</div>
<div id="q6" class="t" style="left:787.43px;transform-origin:0 0;top:65.54px;font-size:28.8px;font-weight:bold;color:#000;transform:scaleX(0.9111);-webkit-text-stroke:0.7px #000;">15</div>
<div id="q7" class="t" style="left:824.04px;transform-origin:0 0;top:65.54px;font-size:28.8px;font-weight:bold;color:#000;transform:scaleX(0.9259);-webkit-text-stroke:0.7px #000;">de</div>
<div id="q8" class="t" style="left:862.56px;transform-origin:0 0;top:65.54px;font-size:28.8px;font-weight:bold;color:#000;transform:scaleX(0.9138);-webkit-text-stroke:0.7px #000;">junio)</div>
<div id="c0" class="t" style="left:142.04px;transform-origin:0 0;top:126.23px;font-size:20.3px;font-weight:bold;color:#000;transform:scaleX(0.9377);-webkit-text-stroke:0.3px #000;">BOLIVIA</div>
<div id="c1" class="t" style="left:137.17px;transform-origin:0 0;top:169.73px;font-size:20.3px;font-weight:bold;color:#000;transform:scaleX(0.9964);-webkit-text-stroke:0.3px #000;">1. Beni</div>
<div id="c2" class="t" style="left:132.75px;transform-origin:0 0;top:211.83px;font-size:20.3px;font-weight:bold;color:#000;transform:scaleX(0.9543);-webkit-text-stroke:0.3px #000;">2. Santa Cruz</div>
<div id="c3" class="t" style="left:135.02px;transform-origin:0 0;top:254.83px;font-size:20.3px;font-weight:bold;color:#000;transform:scaleX(0.9945);-webkit-text-stroke:0.3px #000;">3. Pando</div>
<div id="c4" class="t" style="left:135.54px;transform-origin:0 0;top:298.03px;font-size:20.3px;font-weight:bold;color:#000;transform:scaleX(0.9680);-webkit-text-stroke:0.3px #000;">4. Cochabamba</div>
<div id="c5" class="t" style="left:133.43px;transform-origin:0 0;top:340.43px;font-size:20.3px;font-weight:bold;color:#000;transform:scaleX(1.0069);-webkit-text-stroke:0.3px #000;">5. Oruro</div>
<div id="c6" class="t" style="left:136.59px;transform-origin:0 0;top:383.93px;font-size:20.3px;font-weight:bold;color:#000;transform:scaleX(0.9388);-webkit-text-stroke:0.3px #000;">6. La Paz</div>
<div id="c7" class="t" style="left:136.35px;transform-origin:0 0;top:427.23px;font-size:20.3px;font-weight:bold;color:#000;transform:scaleX(0.9588);-webkit-text-stroke:0.3px #000;">7. Potosí</div>
<div id="c8" class="t" style="left:137.38px;transform-origin:0 0;top:469.93px;font-size:20.3px;font-weight:bold;color:#000;transform:scaleX(1.0077);-webkit-text-stroke:0.3px #000;">8. Tarija</div>
<div id="c9" class="t" style="left:139.24px;transform-origin:0 0;top:512.43px;font-size:20.3px;font-weight:bold;color:#000;transform:scaleX(0.9454);-webkit-text-stroke:0.3px #000;">9. Chuquisaca</div>
<div id="cs" class="t" style="left:846.19px;transform-origin:0 0;top:473.10px;font-size:21px;font-weight:normal;color:#fff;transform:scaleX(1.0463);text-shadow:-0.6px 0.8px 0.5px #1f3a7a;-webkit-text-stroke:0.25px #fff;">19,073</div>
<div id="cs2" class="t" style="left:916.25px;transform-origin:0 0;top:473.10px;font-size:21px;font-weight:normal;color:#fff;transform:scaleX(0.8984);text-shadow:-0.6px 0.8px 0.5px #1f3a7a;-webkit-text-stroke:0.25px #fff;">Casos</div>
</body></html>
